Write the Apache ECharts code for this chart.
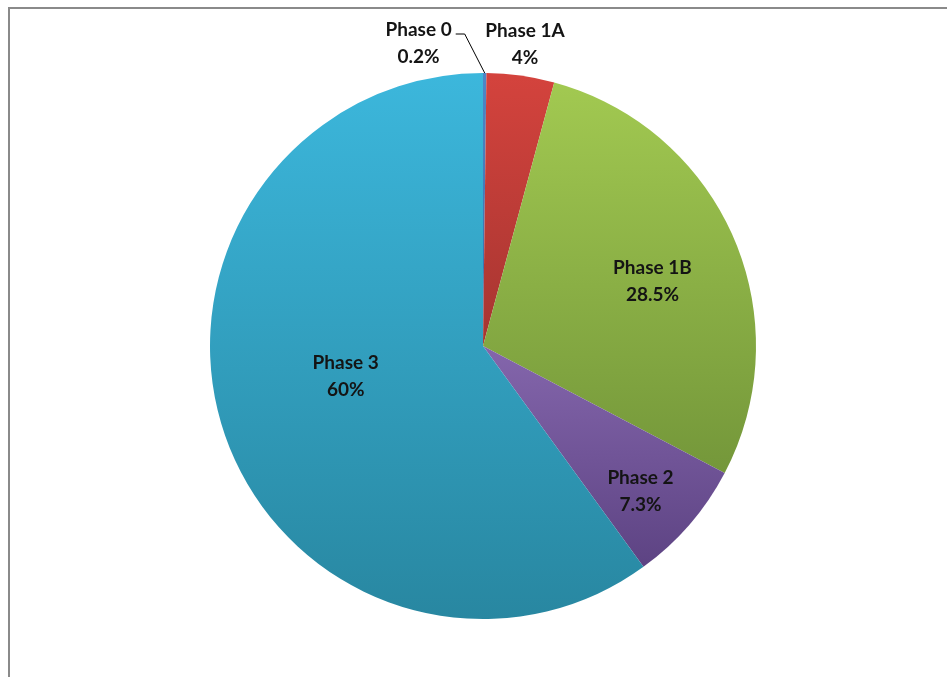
<!DOCTYPE html>
<html>
<head>
<meta charset="utf-8">
<script src="https://cdn.jsdelivr.net/npm/echarts@6/dist/echarts.min.js"></script>
<style>
  html, body { margin: 0; padding: 0; background: #ffffff; }
  #chart { width: 947px; height: 677px; }
</style>
</head>
<body>
<div id="chart"></div>
<script>
// ---- Data ----
const categories = ['Phase 0', 'Phase 1A', 'Phase 1B', 'Phase 2', 'Phase 3'];
const values = [0.2, 4, 28.5, 7.3, 60];
const topColors = ['#4F86C6', '#D4433D', '#A2C951', '#8466AC', '#3CB7DC'];
const bottomColors = ['#3B6BA5', '#A63531', '#74973A', '#5D4383', '#2887A1'];

// ---- Layout constants ----
const CX = 483, CY = 346, R = 273;
// label placement per slice: 'line' = outside with elbow leader to the left
const labelPlace = [
  { mode: 'line' },
  { d: 1.117 },
  { d: 0.665, deg: 69 },
  { d: 0.785, deg: 132.7 },
  { d: 0.515, deg: 257.6 }
];

const total = values.reduce((a, b) => a + b, 0);
const mids = [];
let acc = 0;
values.forEach(v => { mids.push((acc + v / 2) / total); acc += v; });

function polar(frac, d) {
  const t = 2 * Math.PI * frac;
  return [CX + d * Math.sin(t), CY - d * Math.cos(t)];
}

const data = categories.map((name, i) => {
  const p = labelPlace[i];
  const outside = p.mode === 'line' || p.d > 1;
  return {
    name: name,
    value: values[i],
    itemStyle: {
      color: new echarts.graphic.LinearGradient(0, 0, 0, 1, [
        { offset: 0, color: topColors[i] },
        { offset: 1, color: bottomColors[i] }
      ])
    },
    label: { position: outside ? 'outside' : 'inside' },
    labelLine: { show: p.mode === 'line' }
  };
});

const chart = echarts.init(document.getElementById('chart'), null, { renderer: 'canvas' });
chart.setOption({
  animation: false,
  backgroundColor: '#ffffff',
  graphic: [{
    type: 'rect',
    shape: { x: 9, y: 8, width: 1200, height: 1000 },
    style: { fill: 'none', stroke: '#8a8a8a', lineWidth: 2 },
    silent: true
  }],
  series: [{
    type: 'pie',
    center: [CX, CY],
    radius: [0, R],
    startAngle: 90,
    clockwise: true,
    avoidLabelOverlap: false,
    itemStyle: { borderWidth: 0 },
    label: {
      show: true,
      formatter: '{b}\n{c}%',
      fontFamily: 'Lato',
      fontWeight: 'bold',
      fontSize: 19,
      lineHeight: 27,
      color: '#141414',
      align: 'center'
    },
    labelLine: {
      show: false,
      lineStyle: { color: '#000000', width: 1 }
    },
    labelLayout: function (params) {
      const i = params.dataIndex;
      const p = labelPlace[i];
      if (p.mode === 'line') {
        const edge = polar(mids[i], R);
        const elbow = [edge[0] - 20, edge[1] - 39];
        const end = [elbow[0] - 9, elbow[1]];
        const w = params.labelRect.width;
        return {
          x: end[0] - 4 - w / 2,
          y: elbow[1] + 9,
          align: 'center',
          verticalAlign: 'middle',
          labelLinePoints: [edge, elbow, end]
        };
      }
      const frac = p.deg !== undefined ? p.deg / 360 : mids[i];
      const pt = polar(frac, p.d * R);
      return { x: pt[0], y: pt[1], align: 'center', verticalAlign: 'middle' };
    },
    data: data
  }]
});
</script>
</body>
</html>
